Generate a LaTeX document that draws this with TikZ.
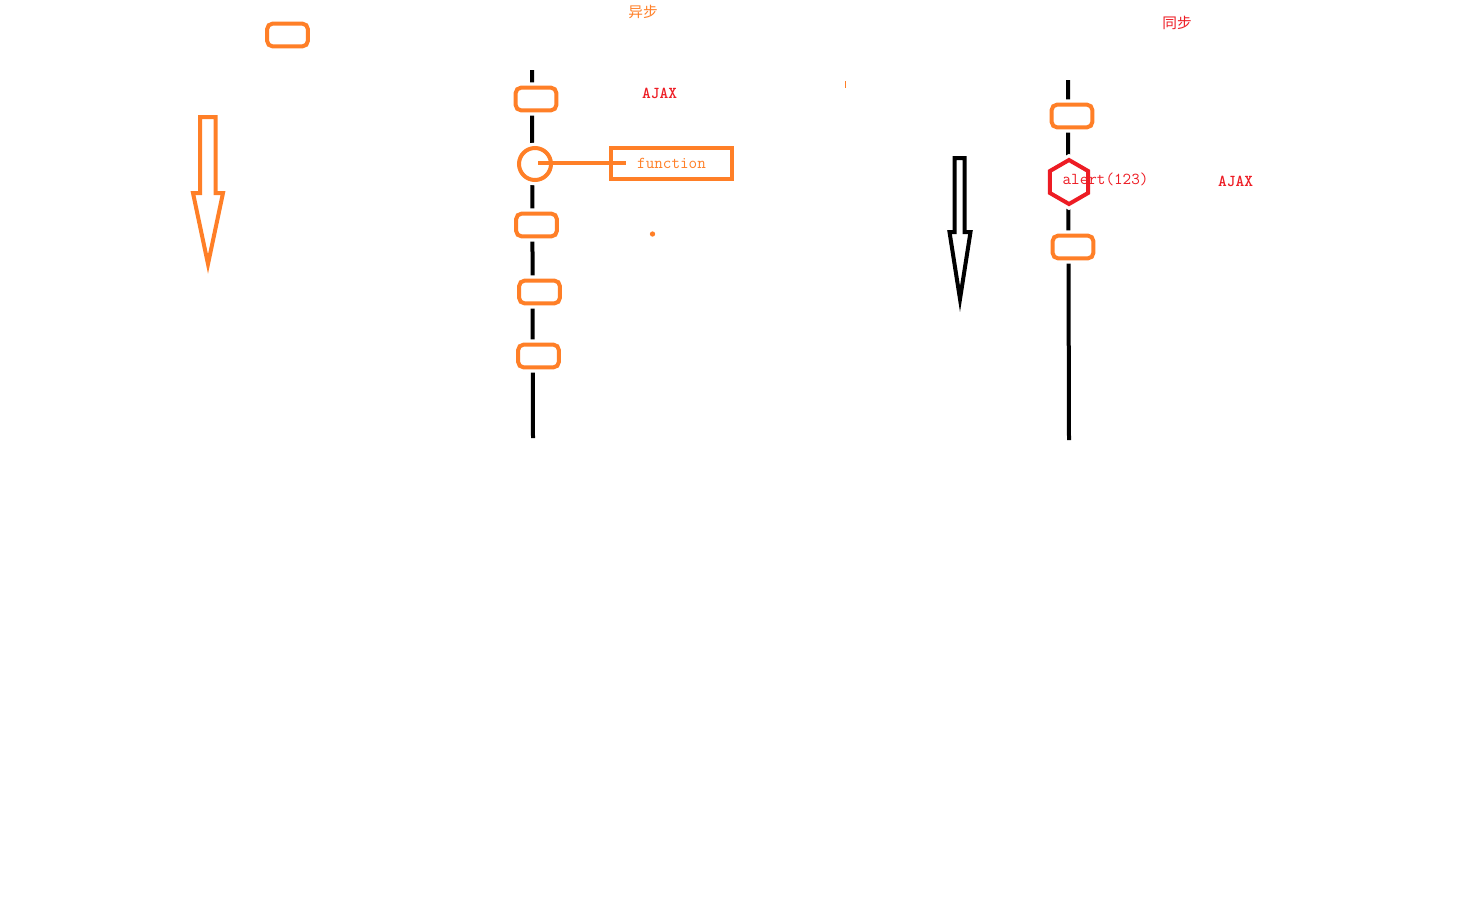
\documentclass[tikz,border=0pt]{standalone}
\usepackage{fontspec}
\newfontfamily\cjk{Noto Sans CJK SC}
\usetikzlibrary{shapes.geometric}
\definecolor{paintorange}{RGB}{255,127,39}
\definecolor{paintred}{RGB}{237,28,36}

\begin{document}
\begin{tikzpicture}[
    x=0.75pt,
    y=-0.75pt,
    line width=3pt
]

\tikzset{
    b/.style={
        rounded corners=4pt,
        draw=paintorange,
        fill=white,
        preaction={draw=white,line width=8pt},
        minimum width=30.5pt,
        minimum height=17pt,
        inner sep=0pt
    },
    lab/.style={
        font=\ttfamily\fontsize{12.5}{14}\selectfont,
        inner sep=0pt
    },
    track/.style={
        draw=black,
        line width=3pt
    },
    hollow/.style={
        line width=3pt,
        line join=miter,
        miter limit=10
    }
}

\useasboundingbox (0,0) rectangle (1478,908);

% left part
\node[b] (lbox) at (287.5,35) {};

\draw[hollow,paintorange]
(200,117)--(215.5,117)--(215.5,193)--(223,193)--(208,264)--(193,193)--(200,193)--cycle;

% asynchronous column
\node[
    font=\cjk\fontsize{11}{13}\selectfont,
    text=paintorange,
    inner sep=0pt
] (async) at (643,12)
{异步};

\coordinate (atop) at (532,70);
\coordinate (abot) at (533,438);
\draw[track]
(atop)--(abot);

\node[b] (a1) at (536,99) {};

\node[
    b,
    circle,
    minimum size=24pt
] (acirc) at (535,164)
{};

\node[b] (a2) at (536.5,225) {};
\node[b] (a3) at (539.5,292) {};
\node[b] (a4) at (538.5,356) {};

\node[
    lab,
    text=paintred,
    font=\ttfamily\bfseries\fontsize{12.5}{14}\selectfont
] (ajaxa) at (659.5,93)
{AJAX};

\node[
    lab,
    draw=paintorange,
    line width=3pt,
    minimum width=90.75pt,
    minimum height=23.25pt,
    text=paintorange
] (fn) at (671.5,163.5)
{function};

\coordinate (fnin) at (626,163);
\draw[paintorange]
(538,163)--(fnin);

\fill[paintorange] (652.5,234) circle (2pt);
\draw[paintorange,line width=0.75pt] (845.5,81)--(845.5,88);

% synchronous column
\node[
    font=\cjk\fontsize{11}{13}\selectfont,
    text=paintred,
    inner sep=0pt
] (sync) at (1177,23)
{同步};

\draw[hollow,black]
(954.5,158)--(964.5,158)--(964.5,232)--(970.5,232)--(960,299)--(949.5,232)--(954.5,232)--cycle;

\coordinate (stop) at (1068,80);
\coordinate (sbot) at (1069,440);
\draw[track]
(stop)--(sbot);

\node[b] (s1) at (1072,116) {};

\node[
    b,
    sharp corners,
    draw=paintred,
    regular polygon,
    regular polygon sides=6,
    shape border rotate=30,
    minimum size=33pt
] (shex) at (1069,182)
{};

\node[b] (s2) at (1073,247) {};

\node[
    lab,
    text=paintred
] (alert) at (1105.5,179)
{alert(123)};

\node[
    lab,
    text=paintred,
    font=\ttfamily\bfseries\fontsize{12.5}{14}\selectfont
] (ajaxs) at (1235.5,181)
{AJAX};

\end{tikzpicture}
\end{document}
